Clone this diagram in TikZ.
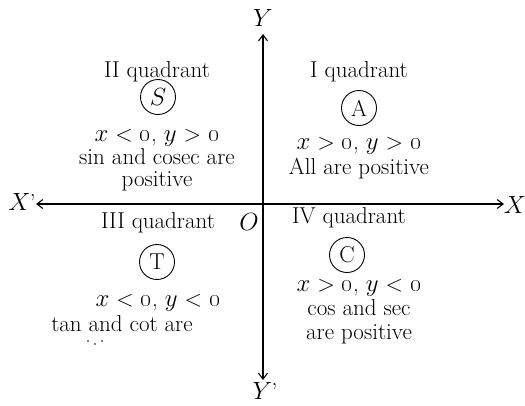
\documentclass[tikz,border=0pt]{standalone}
\usetikzlibrary{arrows.meta}
\begin{document}
\begin{tikzpicture}[x=1pt,y=-1pt,
  every node/.style={font=\fontsize{23}{26}\selectfont, inner sep=0pt, align=center},
  axis/.style={line width=1.1pt, -{Straight Barb[length=6pt,width=9pt]}},
  letter/.style={draw, circle, line width=0.9pt, minimum size=35pt},
  txt/.style={anchor=base},
  dot/.style={fill, circle, inner sep=0pt, minimum size=1.8pt}]
\useasboundingbox (0,0) rectangle (525,405);
\coordinate (o) at (263,204);
\coordinate (xr) at (504,204);
\coordinate (xl) at (36,204);
\coordinate (yt) at (263,34);
\coordinate (yb) at (263,380);
\draw[axis] (o) -- (xr);
\draw[axis] (o) -- (xl);
\draw[axis] (o) -- (yt);
\draw[axis] (o) -- (yb);
\node (X) at (515,205) {$X$};
\node (Xp) at (22,202) {$X$\kern-0.5pt'};
\node (Y) at (263,18) {$Y$};
\node (Yp) at (265,391) {$Y$\kern-0.5pt'};
\node (O) at (249,222) {$O$};
% Quadrant II
\node[txt] (q2) at (157,77) {II quadrant};
\node[letter] (S) at (158,97) {$S$};
\node[txt] (q2a) at (157,141) {$x$ < \oldstylenums{0}, $y$ > \oldstylenums{0}};
\node[txt] (q2b) at (157,164) {sin and cosec are};
\node[txt] (q2c) at (157,186) {positive};
% Quadrant I
\node[txt] (q1) at (359,77) {I quadrant};
\node[letter] (A) at (359,108) {A};
\node[txt] (q1a) at (359,149) {$x$ > \oldstylenums{0}, $y$ > \oldstylenums{0}};
\node[txt] (q1b) at (359,174) {All are positive};
% Quadrant III
\node[txt] (q3) at (158,228) {III quadrant};
\node[letter] (T) at (157,262) {T};
\node[txt] (q3a) at (158,306) {$x$ < \oldstylenums{0}, $y$ < \oldstylenums{0}};
\node[txt] (q3b) at (122,331) {tan and cot are};
\node[dot] (d1) at (88,341) {};
\node[dot] (d2) at (95,344) {};
\node[dot] (d3) at (102,341) {};
% Quadrant IV
\node[txt] (q4) at (349,223) {IV quadrant};
\node[letter] (C) at (347,255) {C};
\node[txt] (q4a) at (359,291) {$x$ > \oldstylenums{0}, $y$ < \oldstylenums{0}};
\node[txt] (q4b) at (359,315) {cos and sec};
\node[txt] (q4c) at (359,339) {are positive};
\end{tikzpicture}
\end{document}
